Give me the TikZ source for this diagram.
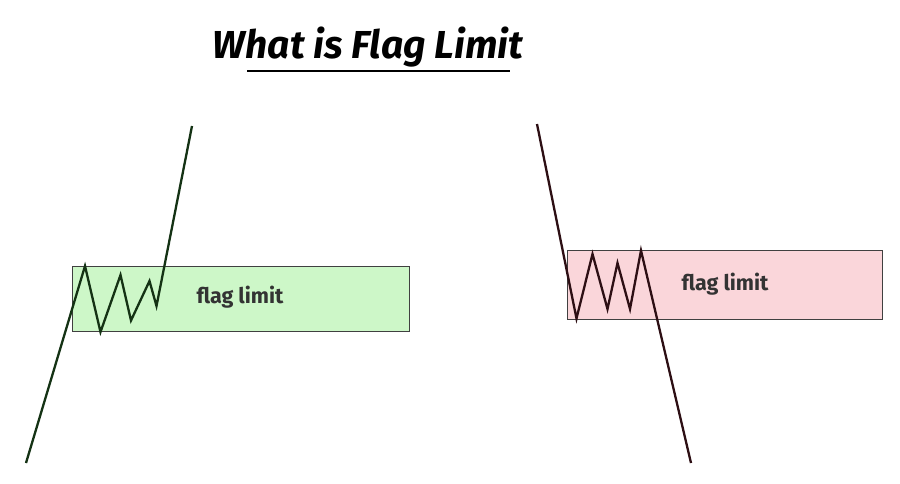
\documentclass[tikz,border=0pt]{standalone}
\usepackage{fontspec}
\setmainfont{Fira Sans}
\begin{document}
\begin{tikzpicture}[x=1pt,y=-1pt,
  boxg/.style={draw=black!75,line width=1pt,fill=greenfill},
  boxr/.style={draw=black!75,line width=1pt,fill=redfill},
  lbl/.style={font=\fontsize{21.5}{24}\selectfont\bfseries,text=black!80},
  price/.style={line width=2.3pt,line join=miter}]
\definecolor{greenfill}{RGB}{205,247,200}
\definecolor{redfill}{RGB}{250,214,218}
\definecolor{gline}{RGB}{20,50,20}
\definecolor{rline}{RGB}{45,15,20}
\path[use as bounding box,fill=white] (0,0) rectangle (900,484);
% title
\node[anchor=base,font=\fontsize{39}{44}\selectfont\bfseries\itshape] (title) at (368,59) {What is Flag Limit};
\coordinate (u1) at (247,71); \coordinate (u2) at (510,71);
\draw[line width=2.5pt] (u1) -- (u2);
% green box
\node[boxg,minimum width=337pt,minimum height=65pt,inner sep=0pt] (gbox) at (240.5,298.5) {};
\node[lbl] (gtext) at (240,297) {flag limit};
\coordinate (g0) at (26,463);
\coordinate (g1) at (85,266);
\coordinate (g2) at (100.5,332);
\coordinate (g3) at (120.5,275);
\coordinate (g4) at (131,320.5);
\coordinate (g5) at (149.5,281);
\coordinate (g6) at (156.5,306);
\coordinate (g7) at (192,126);
\draw[price,draw=gline] (g0)--(g1)--(g2)--(g3)--(g4)--(g5)--(g6)--(g7);
% red box
\node[boxr,minimum width=315pt,minimum height=69pt,inner sep=0pt] (rbox) at (724.5,284.5) {};
\node[lbl] (rtext) at (725,284) {flag limit};
\coordinate (r0) at (537,124);
\coordinate (r1) at (576.5,318.5);
\coordinate (r2) at (592.5,254);
\coordinate (r3) at (607.5,309);
\coordinate (r4) at (617.5,263);
\coordinate (r5) at (630,309);
\coordinate (r6) at (641,250.5);
\coordinate (r7) at (691,463);
\draw[price,draw=rline] (r0)--(r1)--(r2)--(r3)--(r4)--(r5)--(r6)--(r7);
\end{tikzpicture}
\end{document}
